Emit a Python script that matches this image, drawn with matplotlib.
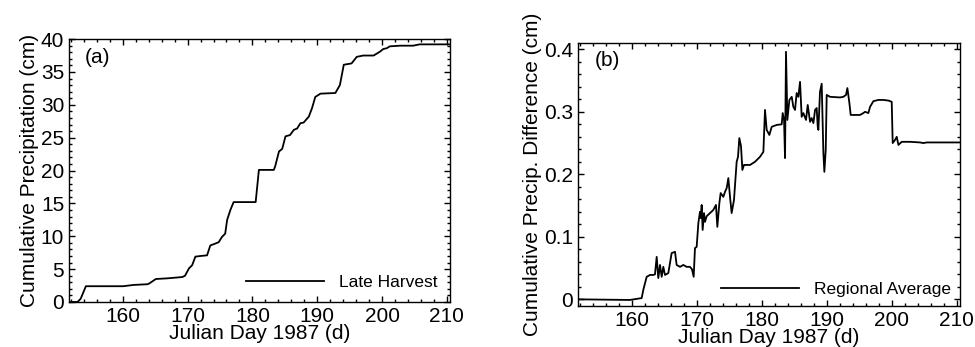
import numpy as np
import matplotlib
matplotlib.use("Agg")
import matplotlib.pyplot as plt
from matplotlib.ticker import MultipleLocator

# (a) cumulative precipitation, late harvest site
day_a = [151.7, 153.0, 153.5, 154.3, 160.05, 161.7, 163.8, 164.05, 165.1, 166.9,
         169.2, 169.6, 170.2, 170.7, 171.2, 172.0, 173.0, 173.5, 174.3, 174.8,
         175.3, 175.8, 176.1, 176.6, 177.1, 180.5, 181.0, 183.3, 183.5, 184.1,
         184.6, 185.1, 185.8, 186.4, 186.9, 187.4, 187.9, 188.7, 189.2, 189.7,
         190.5, 192.8, 193.5, 194.1, 195.3, 196.1, 197.1, 198.7, 199.7, 200.2,
         200.7, 201.2, 202.8, 204.8, 205.8, 210.5]
precip_a = [0.0, 0.0, 0.5, 2.4, 2.4, 2.6, 2.7, 2.8, 3.5, 3.6,
            3.8, 4.0, 5.1, 5.6, 6.9, 7.0, 7.1, 8.6, 8.9, 9.1,
            9.9, 10.4, 12.5, 14.0, 15.2, 15.2, 20.1, 20.1, 20.6, 22.9,
            23.3, 25.2, 25.4, 26.2, 26.4, 27.2, 27.3, 28.2, 29.5, 31.2,
            31.7, 31.8, 33.0, 36.1, 36.3, 37.3, 37.5, 37.5, 38.1, 38.5,
            38.6, 38.9, 39.0, 39.0, 39.2, 39.2]

# (b) cumulative precip difference vs regional average
day_b = [151.7, 159.74, 161.54, 161.79, 162.31, 162.82, 163.33, 163.59, 163.85, 164.10,
         164.36, 164.62, 164.87, 165.13, 165.64, 166.15, 166.67, 166.92, 167.44, 167.95,
         168.46, 168.97, 169.28, 169.54, 169.74, 170.0, 170.26, 170.51, 170.62, 170.77,
         170.92, 171.13, 171.28, 171.54, 172.05, 172.56, 172.97, 173.18, 173.49, 173.69,
         174.10, 174.36, 174.62, 174.87, 175.13, 175.38, 175.74, 176.15, 176.36, 176.56,
         176.82, 177.03, 177.28, 178.21, 178.97, 179.74, 180.26, 180.51, 180.77, 181.18,
         181.54, 182.31, 183.08, 183.23, 183.44, 183.59, 183.74, 183.95, 184.26, 184.62,
         184.87, 185.13, 185.38, 185.64, 185.90, 186.15, 186.41, 186.82, 187.08, 187.44,
         187.69, 187.95, 188.21, 188.46, 188.62, 188.72, 188.97, 189.23, 189.49, 189.64,
         189.85, 190.0, 190.51, 192.05, 192.56, 192.97, 193.18, 193.49, 193.69, 194.10,
         195.13, 195.64, 195.90, 196.41, 196.67, 197.18, 197.95, 198.72, 199.49, 200.0,
         200.15, 200.51, 200.77, 201.03, 201.54, 202.82, 204.36, 204.87, 205.38, 210.5]
diff_b = [0.0, -0.001, 0.002, 0.015, 0.036, 0.039, 0.039, 0.040, 0.068, 0.034,
          0.055, 0.036, 0.052, 0.039, 0.042, 0.074, 0.076, 0.055, 0.052, 0.055,
          0.052, 0.052, 0.048, 0.036, 0.082, 0.084, 0.122, 0.140, 0.130, 0.151,
          0.111, 0.138, 0.124, 0.133, 0.138, 0.143, 0.151, 0.116, 0.154, 0.170,
          0.164, 0.172, 0.178, 0.194, 0.164, 0.138, 0.159, 0.220, 0.228, 0.258,
          0.245, 0.207, 0.215, 0.215, 0.220, 0.228, 0.236, 0.303, 0.271, 0.263,
          0.276, 0.279, 0.280, 0.298, 0.287, 0.226, 0.396, 0.287, 0.319, 0.324,
          0.308, 0.303, 0.330, 0.324, 0.348, 0.292, 0.298, 0.287, 0.311, 0.284,
          0.290, 0.282, 0.303, 0.306, 0.276, 0.271, 0.332, 0.345, 0.234, 0.204,
          0.239, 0.327, 0.324, 0.323, 0.324, 0.327, 0.338, 0.314, 0.295, 0.295,
          0.295, 0.298, 0.300, 0.298, 0.308, 0.317, 0.319, 0.319, 0.318, 0.316,
          0.250, 0.255, 0.260, 0.247, 0.252, 0.252, 0.251, 0.250, 0.251, 0.251]

xticks = [160, 170, 180, 190, 200, 210]

plt.rcParams['font.family'] = ['Liberation Sans', 'DejaVu Sans']
plt.rcParams['font.size'] = 15


def style_axes(ax):
    for s in ax.spines.values():
        s.set_linewidth(1.0)
    ax.tick_params(which='both', direction='in', top=True, right=True,
                   labelsize=15, width=1.0)
    ax.tick_params(which='major', length=4.0, pad=3.5)
    ax.tick_params(which='minor', length=2.2)
    ax.set_xlim(151.7, 210.5)
    ax.set_xticks(xticks)
    ax.xaxis.set_minor_locator(MultipleLocator(2))
    ax.set_xlabel('Julian Day 1987 (d)', labelpad=-1)


fig = plt.figure(figsize=(9.75, 3.47), dpi=100)

ax1 = fig.add_axes([0.0708, 0.1297, 0.3908, 0.7576])
ax1.plot(day_a, precip_a, color='black', linewidth=1.3, label='Late Harvest')
style_axes(ax1)
ax1.set_ylim(0, 40)
ax1.yaxis.set_major_locator(MultipleLocator(5))
ax1.yaxis.set_minor_locator(MultipleLocator(1))
ax1.set_ylabel('Cumulative Precipitation (cm)', labelpad=1)
ax1.text(0.04, 0.965, '(a)', transform=ax1.transAxes, ha='left', va='top', fontsize=15)
ax1.legend(loc='lower right', frameon=False, fontsize=12.5, handlelength=4.5,
           handletextpad=0.9, borderaxespad=0.3)

ax2 = fig.add_axes([0.5925, 0.1190, 0.3921, 0.7580])
ax2.plot(day_b, diff_b, color='black', linewidth=1.3, label='Regional Average')
style_axes(ax2)
ax2.set_ylim(-0.0102, 0.4106)
ax2.set_yticks([0, 0.1, 0.2, 0.3, 0.4])
ax2.set_yticklabels(['0', '0.1', '0.2', '0.3', '0.4'])
ax2.yaxis.set_minor_locator(MultipleLocator(0.02))
ax2.set_ylabel('Cumulative Precip. Difference (cm)', labelpad=1)
ax2.text(0.045, 0.97, '(b)', transform=ax2.transAxes, ha='left', va='top', fontsize=15)
ax2.legend(loc='lower right', frameon=False, fontsize=12.5, handlelength=4.5,
           handletextpad=0.9, borderaxespad=0.1)

fig.savefig('out.png', dpi=100)
